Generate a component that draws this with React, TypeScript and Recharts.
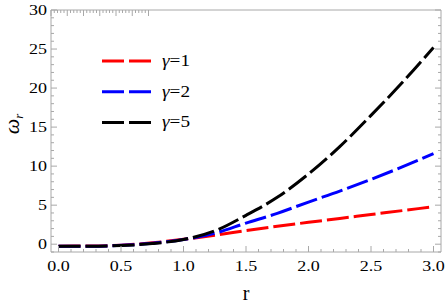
import { Line, LineChart, XAxis, YAxis } from "recharts";

// r samples and ω_r
const R = [0, 0.25, 0.5, 0.75, 1, 1.25, 1.5, 1.75, 2, 2.25, 2.5, 2.75, 3];
const GAMMA_1 = [-0.25, -0.24, -0.12, 0.18, 0.62, 1.15, 1.75, 2.3, 2.8, 3.3, 3.8, 4.3, 4.8];
const GAMMA_2 = [-0.25, -0.25, -0.15, 0.12, 0.6, 1.4, 2.7, 3.95, 5.4, 6.8, 8.3, 9.9, 11.6];
const GAMMA_5 = [-0.25, -0.25, -0.17, 0.08, 0.6, 1.7, 3.7, 6.0, 9.0, 12.5, 16.5, 20.7, 25.2];

const X_TICKS = [
  0, 0.1, 0.2, 0.3, 0.4, 0.5, 0.6, 0.7, 0.8, 0.9, 1, 1.1, 1.2, 1.3, 1.4, 1.5,
  1.6, 1.7, 1.8, 1.9, 2, 2.1, 2.2, 2.3, 2.4, 2.5, 2.6, 2.7, 2.8, 2.9, 3,
];
const Y_TICKS = [
  -1, 0, 1, 2, 3, 4, 5, 6, 7, 8, 9, 10, 11, 12, 13, 14, 15, 16, 17, 18, 19, 20,
  21, 22, 23, 24, 25, 26, 27, 28, 29, 30,
];

const SERIES = [
  { key: "g1", gamma: "1", color: "#ff0000" },
  { key: "g2", gamma: "2", color: "#0000ff" },
  { key: "g5", gamma: "5", color: "#000000" },
];

const data = R.map((r, i) => ({ r, g1: GAMMA_1[i], g2: GAMMA_2[i], g5: GAMMA_5[i] }));

const W = 447;
const H = 307;
const FRAME = "#a8a8a8";
const FONT = '"Liberation Serif", "Times New Roman", serif';
const DASH = "22 5";
const X_DOMAIN = [-0.06, 3.06];
const Y_DOMAIN = [-1, 30];

const majorX = (v: number) => Math.abs(v * 2 - Math.round(v * 2)) < 1e-6;
const majorY = (v: number) => v % 5 === 0;

function XTick(props: any) {
  const { x, y, payload, side } = props;
  const v = payload.value as number;
  const major = majorX(v);
  const dir = side === "bottom" ? -1 : 1;
  return (
    <g>
      <line x1={x} x2={x} y1={y} y2={y + dir * (major ? 6 : 3)} stroke={FRAME} />
      {side === "bottom" && major && (
        <text
          transform={`translate(${x},${y + 19}) scale(1.2,1)`}
          textAnchor="middle"
          fontFamily={FONT}
          fontSize={15}
          fill="#000"
        >
          {v.toFixed(1)}
        </text>
      )}
    </g>
  );
}

function YTick(props: any) {
  const { x, y, payload, side } = props;
  const v = payload.value as number;
  const major = majorY(v);
  const dir = side === "left" ? 1 : -1;
  return (
    <g>
      <line x1={x} x2={x + dir * (major ? 6 : 3)} y1={y} y2={y} stroke={FRAME} />
      {side === "left" && major && (
        <text
          transform={`translate(${x - 4},${y + 5}) scale(1.2,1)`}
          textAnchor="end"
          fontFamily={FONT}
          fontSize={15}
          fill="#000"
        >
          {v}
        </text>
      )}
    </g>
  );
}

const axisCommon = {
  type: "number" as const,
  interval: 0 as const,
  tickSize: 0,
  tickMargin: 0,
  tickLine: false,
  axisLine: { stroke: FRAME },
  allowDataOverflow: true,
};

export default function App() {
  return (
    <div style={{ position: "absolute", left: 0, top: 0, width: W, height: H, background: "#fff" }}>
      <LineChart width={W} height={H} data={data} margin={{ top: 9, right: 5, bottom: 54, left: 50 }}>
        <XAxis {...axisCommon} dataKey="r" domain={X_DOMAIN} ticks={X_TICKS} height={1} tick={<XTick side="bottom" />} />
        <XAxis
          {...axisCommon}
          xAxisId="top"
          orientation="top"
          domain={X_DOMAIN}
          ticks={X_TICKS}
          height={1}
          tick={<XTick side="top" />}
        />
        <YAxis {...axisCommon} domain={Y_DOMAIN} ticks={Y_TICKS} width={1} tick={<YTick side="left" />} />
        <YAxis
          {...axisCommon}
          yAxisId="right"
          orientation="right"
          domain={Y_DOMAIN}
          ticks={Y_TICKS}
          width={1}
          tick={<YTick side="right" />}
        />
        {SERIES.map((s) => (
          <Line
            key={s.key}
            type="monotone"
            dataKey={s.key}
            stroke={s.color}
            strokeWidth={3}
            strokeDasharray={DASH}
            dot={false}
            activeDot={false}
            isAnimationActive={false}
          />
        ))}
      </LineChart>
      <svg
        width={W}
        height={H}
        style={{ position: "absolute", left: 0, top: 0, pointerEvents: "none" }}
      >
        {SERIES.map((s, i) => (
          <g key={s.key}>
            <line
              x1={102}
              x2={151}
              y1={61 + i * 30.7}
              y2={61 + i * 30.7}
              stroke={s.color}
              strokeWidth={3}
              strokeDasharray={DASH}
            />
            <text
              transform={`translate(162,${66 + i * 30.7}) scale(1.2,1)`}
              fontFamily={FONT}
              fontSize={16}
              fill="#000"
            >
              <tspan fontStyle="italic">γ</tspan>=<tspan>{s.gamma}</tspan>
            </text>
          </g>
        ))}
        <text
          transform="translate(19,124) rotate(-90)"
          textAnchor="middle"
          fontFamily={FONT}
          fontSize={22}
          fill="#000"
        >
          <tspan fontStyle="italic">ω</tspan>
          <tspan fontStyle="italic" fontSize={13} dy={4}>r</tspan>
        </text>
        <text x={246} y={300} textAnchor="middle" fontFamily={FONT} fontSize={20} fill="#000">
          r
        </text>
      </svg>
    </div>
  );
}
